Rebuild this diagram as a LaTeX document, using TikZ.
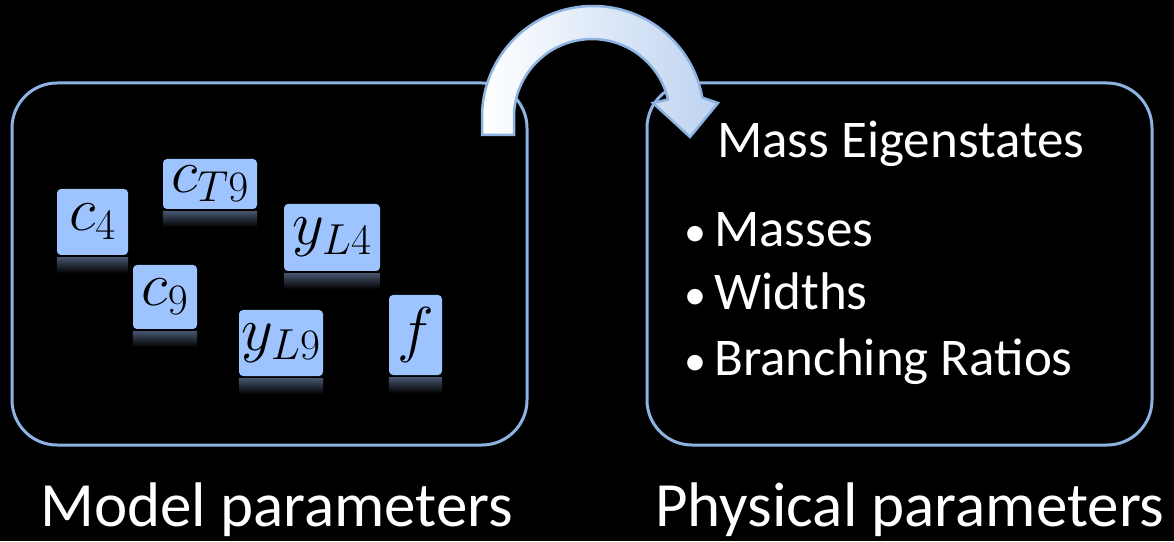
\documentclass[tikz,border=0pt]{standalone}
\usepackage{fix-cm}
\usepackage{fontspec}
\setmainfont{Carlito}
\usetikzlibrary{positioning}
\definecolor{frameblue}{RGB}{141,179,226}
\definecolor{parblue}{RGB}{158,196,255}
\definecolor{arrowblue}{RGB}{190,211,240}
\definecolor{shine}{RGB}{70,84,108}
\newcommand{\itembullet}{\makebox[31pt][l]{\hspace*{1pt}{\fontsize{44}{44}\selectfont\textbullet}}}

\begin{document}
\begin{tikzpicture}[
        x=1pt, y=1pt,
        frame/.style={draw=frameblue, line width=3pt, rounded corners=45pt},
        param/.style={fill=parblue, rounded corners=4pt, inner sep=0pt,
            font=\fontsize{62}{66}\selectfont},
        bigtext/.style={text=white, anchor=base west, inner sep=0pt,
            font=\fontsize{63}{66}\selectfont},
        boxtext/.style={text=white, anchor=base west, inner sep=0pt,
            font=\fontsize{53}{58}\selectfont}
    ]
    \fill[black] (0,0) rectangle (1174,541);
    \useasboundingbox (0,0) rectangle (1174,541);

    % Frames
    \draw[frame] (12,96) rectangle (527,458);
    \draw[frame] (647,96) rectangle (1152,458);

    % Model parameters
    \node[param, minimum width=71, minimum height=66] (c4) at (92.5,319) {$c_4$};
    \node[param, minimum width=94, minimum height=50] (cT9) at (210,357) {$c_{T9}$};
    \node[param, minimum width=96, minimum height=67] (yL4) at (332,303.5) {$y_{L4}$};
    \node[param, minimum width=64, minimum height=64] (c9) at (165,244) {$c_9$};
    \node[param, minimum width=84, minimum height=66] (yL9) at (281,198) {$y_{L9}$};
    \node[param, minimum width=53, minimum height=80] (f) at (415.5,206) {$f$};

    % Reflections
    \foreach \p in {c4,cT9,yL4,c9,yL9,f}
        \shade[top color=shine, bottom color=black]
            ([yshift=-2pt]\p.south west) rectangle ([yshift=-18pt]\p.south east);

    % Arrow
    \draw[draw=frameblue, line width=2.5pt, left color=white, right color=arrowblue]
        (482,406) -- (482,424) arc[start angle=180, end angle=10, radius=111]
        -- (718,438) -- (690,404) -- (653,438) -- (668,441.5)
        arc[start angle=13, end angle=180, radius=78] -- (514,406) -- cycle;

    % Physical parameters
    \node[boxtext] (mass) at (717,383) {Mass Eigenstates};
    \node[boxtext] (item1) at (683,294) {\itembullet Masses};
    \node[boxtext] (item2) at (683,231) {\itembullet Widths};
    \node[boxtext] (item3) at (683,166) {\itembullet Branching Ratios};

    % Captions
    \node[bigtext] (model) at (40,15) {Model parameters};
    \node[bigtext] (phys) at (655,15) {Physical parameters};
\end{tikzpicture}
\end{document}
